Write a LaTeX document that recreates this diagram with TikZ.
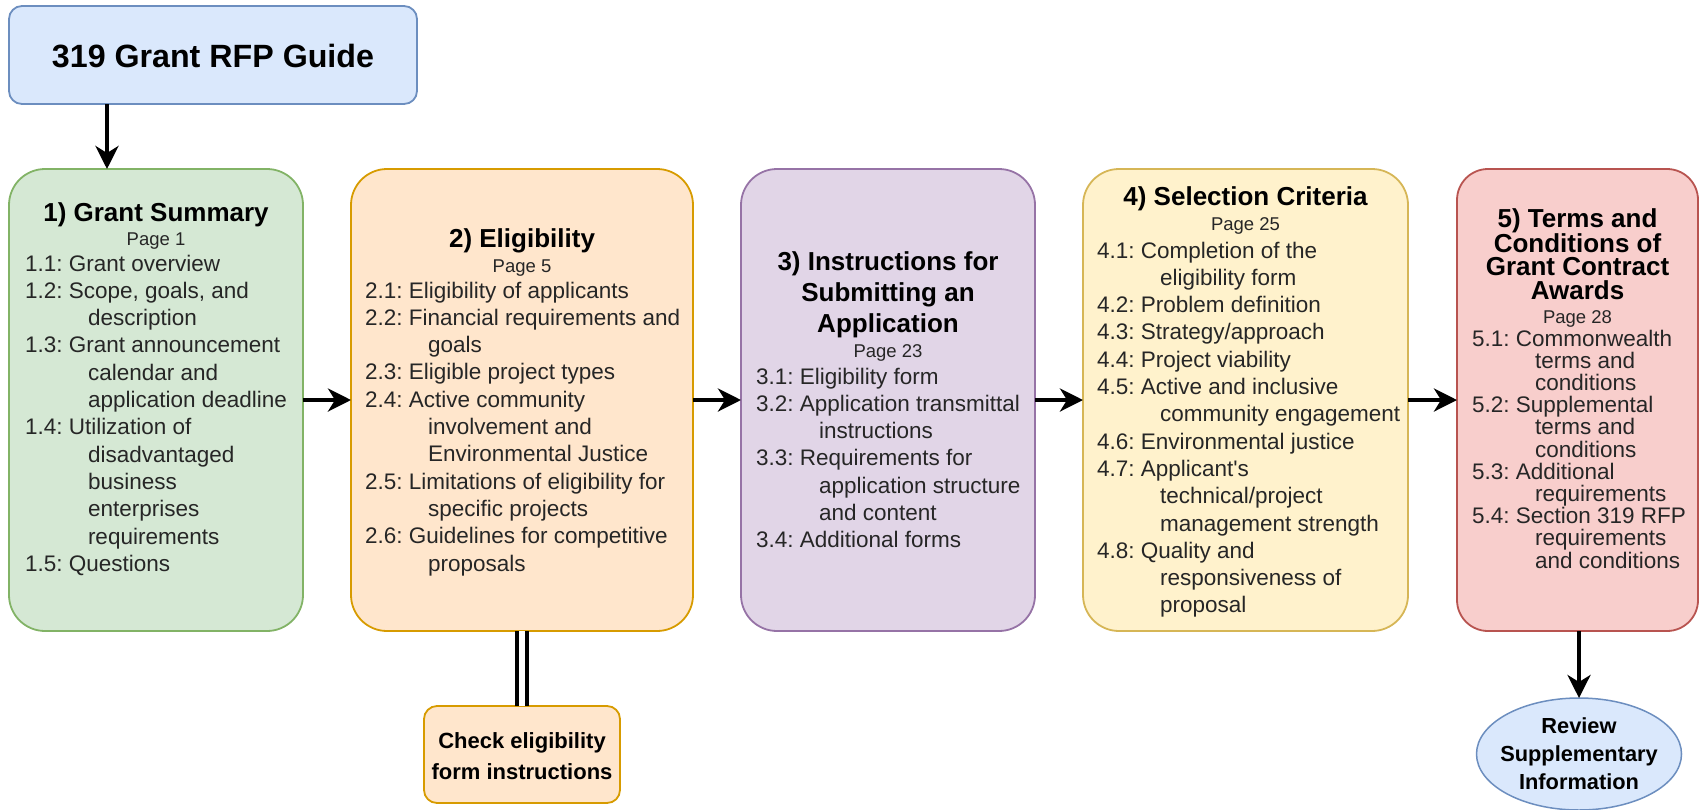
\documentclass[tikz,border=0pt]{standalone}
\usepackage{fontspec}
\setmainfont{Liberation Sans}
\usetikzlibrary{arrows.meta,shapes.geometric}
\definecolor{bluefill}{HTML}{DAE8FC}\definecolor{bluedraw}{HTML}{6C8EBF}
\definecolor{greenfill}{HTML}{D5E8D4}\definecolor{greendraw}{HTML}{82B366}
\definecolor{orangefill}{HTML}{FFE6CC}\definecolor{orangedraw}{HTML}{D79B00}
\definecolor{purplefill}{HTML}{E1D5E7}\definecolor{purpledraw}{HTML}{9673A6}
\definecolor{yellowfill}{HTML}{FFF2CC}\definecolor{yellowdraw}{HTML}{D6B656}
\definecolor{redfill}{HTML}{F8CECC}\definecolor{reddraw}{HTML}{B85450}
\definecolor{itemgray}{HTML}{262626}
\frenchspacing
\newcommand{\hind}{\hspace*{63pt}}
\newcommand{\boxtitle}[3][31pt]{\parbox[t]{#2}{\centering\bfseries\fontsize{26}{#1}\selectfont #3}}
\newcommand{\pagetxt}[1]{{\fontsize{18.5}{22}\selectfont #1}}
\newcommand{\itemtxt}[2][27.3pt]{\parbox[t]{340pt}{\raggedright\frenchspacing\fontsize{22.5}{#1}\selectfont #2}}
\tikzset{
  box/.style={rectangle, rounded corners=36pt, line width=1.8pt, inner sep=0pt, outer sep=0pt},
  smallbox/.style={box, rounded corners=13pt},
  txt/.style={inner sep=0pt, outer sep=0pt, anchor=base},
  lst/.style={inner sep=0pt, outer sep=0pt, anchor=base west, text=itemgray},
  pg/.style={txt, text=itemgray},
  arr/.style={line width=4pt, -{Stealth[length=23pt,width=23pt,inset=7pt]}},
}
\begin{document}
\begin{tikzpicture}[x=1pt,y=-1pt]
\useasboundingbox (0,0) rectangle (1702,809);
% top box
\node[smallbox, draw=bluedraw, fill=bluefill, minimum width=408pt, minimum height=98pt] (rfp) at (213,55) {};
\node[txt] (rfpt) at (213,67) {\fontsize{32.2}{38}\selectfont\bfseries 319 Grant RFP Guide};
% main boxes
\node[box, draw=greendraw, fill=greenfill, minimum width=294pt, minimum height=462pt] (gs) at (156,400) {};
\node[box, draw=orangedraw, fill=orangefill, minimum width=342pt, minimum height=462pt] (el) at (522,400) {};
\node[box, draw=purpledraw, fill=purplefill, minimum width=294pt, minimum height=462pt] (ins) at (888,400) {};
\node[box, draw=yellowdraw, fill=yellowfill, minimum width=325pt, minimum height=462pt] (sel) at (1245.5,400) {};
\node[box, rounded corners=31pt, draw=reddraw, fill=redfill, minimum width=241pt, minimum height=462pt] (tc) at (1577.5,400) {};
% box 1
\node[txt] (gst) at (156,221) {\boxtitle{290pt}{1) Grant Summary}};
\node[pg] (gsp) at (156,245) {\pagetxt{Page 1}};
\node[lst] (gsl) at (25,271) {\itemtxt{1.1: Grant overview\\
1.2: Scope, goals, and\\
\hind description\\
1.3: Grant announcement\\
\hind calendar and\\
\hind application deadline\\
1.4: Utilization of\\
\hind disadvantaged\\
\hind business\\
\hind enterprises\\
\hind requirements\\
1.5: Questions}};
% box 2
\node[txt] (elt) at (522,247) {\boxtitle{330pt}{2) Eligibility}};
\node[pg] (elp) at (522,272) {\pagetxt{Page 5}};
\node[lst] (ell) at (365,298) {\itemtxt{2.1: Eligibility of applicants\\
2.2: Financial requirements and\\
\hind goals\\
2.3: Eligible project types\\
2.4: Active community\\
\hind involvement and\\
\hind Environmental Justice\\
2.5: Limitations of eligibility for\\
\hind specific projects\\
2.6: Guidelines for competitive\\
\hind proposals}};
% box 3
\node[txt] (inst) at (888,270) {\boxtitle{290pt}{3) Instructions for\\Submitting an\\Application}};
\node[pg] (insp) at (888,357) {\pagetxt{Page 23}};
\node[lst] (insl) at (756,384) {\itemtxt{3.1: Eligibility form\\
3.2: Application transmittal\\
\hind instructions\\
3.3: Requirements for\\
\hind application structure\\
\hind and content\\
3.4: Additional forms}};
% box 4
\node[txt] (selt) at (1245.5,205) {\boxtitle{320pt}{4) Selection Criteria}};
\node[pg] (selp) at (1245.5,230) {\pagetxt{Page 25}};
\node[lst] (sell) at (1097,258) {\itemtxt{4.1: Completion of the\\
\hind eligibility form\\
4.2: Problem definition\\
4.3: Strategy/approach\\
4.4: Project viability\\
4.5: Active and inclusive\\
\hind community engagement\\
4.6: Environmental justice\\
4.7: Applicant\textquotesingle s\\
\hind technical/project\\
\hind management strength\\
4.8: Quality and\\
\hind responsiveness of\\
\hind proposal}};
% box 5
\node[txt] (tct) at (1577.5,227) {\boxtitle[23.7pt]{236pt}{5) Terms and\\Conditions of\\Grant Contract\\Awards}};
\node[pg] (tcp) at (1577.5,323) {\pagetxt{Page 28}};
\node[lst] (tcl) at (1472,346) {\itemtxt[22.2pt]{5.1: Commonwealth\\
\hind terms and\\
\hind conditions\\
5.2: Supplemental\\
\hind terms and\\
\hind conditions\\
5.3: Additional\\
\hind requirements\\
5.4: Section 319 RFP\\
\hind requirements\\
\hind and conditions}};
% check box
\node[smallbox, draw=orangedraw, fill=orangefill, minimum width=196pt, minimum height=97pt] (chk) at (522,754.5) {};
\node[txt] (chkt) at (522,748) {\parbox[t]{194pt}{\centering\bfseries\fontsize{22}{31.5}\selectfont Check eligibility\\form instructions}};
% ellipse
\node[ellipse, draw=bluedraw, fill=bluefill, line width=1.5pt, minimum width=205pt, minimum height=112pt, inner sep=0pt, outer sep=0pt] (rev) at (1579,754) {};
\node[txt] (revt) at (1579,733) {\parbox[t]{200pt}{\centering\bfseries\fontsize{21.8}{28}\selectfont Review\\Supplementary\\Information}};
% connectors
\draw[arr] ([xshift=98pt]rfp.south west) -- ([xshift=98pt]gs.north west);
\draw[arr] (gs.east) -- (el.west);
\draw[arr] (el.east) -- (ins.west);
\draw[arr] (ins.east) -- (sel.west);
\draw[arr] (sel.east) -- (tc.west);
\draw[arr] (tc.south -| rev.north) -- (rev.north);
\draw[line width=4pt, double distance=6pt] (el.south) -- (chk.north);
\end{tikzpicture}
\end{document}
